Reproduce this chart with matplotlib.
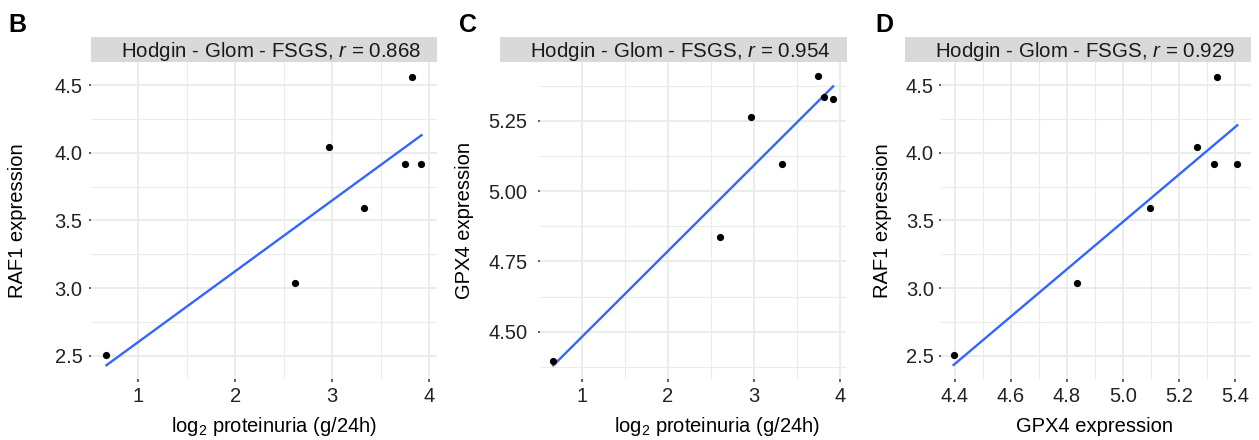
import numpy as np
import matplotlib as mpt
mpt.use('Agg')
from matplotlib import pyplot as plt
from matplotlib.ticker import MultipleLocator

plt.rcParams['font.family'] = ['Liberation Sans', 'DejaVu Sans']
plt.rcParams['mathtext.fontset'] = 'custom'
plt.rcParams['mathtext.rm'] = 'Liberation Sans'
plt.rcParams['mathtext.it'] = 'Liberation Sans:italic'

# values (7 samples)
proteinuria = [0.67, 2.61, 2.97, 3.33, 3.75, 3.82, 3.92]
raf1 = [2.51, 3.04, 4.04, 3.59, 3.92, 4.56, 3.92]
gpx4 = [4.395, 4.836, 5.264, 5.097, 5.409, 5.335, 5.326]

panel_letters = ['B', 'C', 'D']
r_values = ['0.868', '0.954', '0.929']
x_labels = ['log$_2$ proteinuria (g/24h)', 'log$_2$ proteinuria (g/24h)', 'GPX4 expression']
y_labels = ['RAF1 expression', 'GPX4 expression', 'RAF1 expression']

W, H = 1259, 440
fig = plt.figure(figsize=(W / 100, H / 100), dpi=100)


def rect(l, r, t, b):
    return [l / W, 1 - b / H, (r - l) / W, (b - t) / H]


# panel boxes in pixels: plot area, strip, label positions
panels = [
    dict(x=proteinuria, y=raf1, box=(90.7, 437, 62, 379), strip=(90.7, 437),
         xlim=(0.507, 4.08), ylim=(2.33, 4.67), xmaj=1, xmin=0.5, ymaj=0.5, ymin=0.25,
         fmt='%.1f', pad=4.0, letter_x=8, ylab_x=17.5, xlab_x=274),
    dict(x=proteinuria, y=gpx4, box=(540, 846, 62, 379), strip=(500, 847),
         xlim=(0.516, 4.07), ylim=(4.332, 5.459), xmaj=1, xmin=0.5, ymaj=0.25, ymin=0.125,
         fmt='%.2f', pad=7.2, letter_x=459, ylab_x=465, xlab_x=717),
    dict(x=gpx4, y=raf1, box=(941, 1251, 62, 379), strip=(905, 1251),
         xlim=(4.35, 5.458), ylim=(2.33, 4.67), xmaj=0.2, xmin=0.1, ymaj=0.5, ymin=0.25,
         fmt='%.1f', pad=3.4, letter_x=875, ylab_x=883, xlab_x=1094.5),
]

for i, p in enumerate(panels):
    l, r, t, b = p['box']
    ax = fig.add_axes(rect(l, r, t, b))
    ax.set_xlim(p['xlim'])
    ax.set_ylim(p['ylim'])
    ax.xaxis.set_major_locator(MultipleLocator(p['xmaj']))
    ax.xaxis.set_minor_locator(MultipleLocator(p['xmin']))
    ax.yaxis.set_major_locator(MultipleLocator(p['ymaj']))
    ax.yaxis.set_minor_locator(MultipleLocator(p['ymin']))
    ax.yaxis.set_major_formatter(mpt.ticker.FormatStrFormatter(p['fmt']))
    if i == 2:
        ax.xaxis.set_major_formatter(mpt.ticker.FormatStrFormatter('%.1f'))
    ax.grid(which='major', color='#EBEBEB', lw=1.3)
    ax.grid(which='minor', color='#EBEBEB', lw=0.8)
    ax.set_axisbelow(True)
    for s in ax.spines.values():
        s.set_visible(False)
    ax.tick_params(which='major', length=1.8, width=1.1, color='#333333',
                   labelsize=14.5, labelcolor='#222222')
    ax.tick_params(axis='y', pad=p['pad'])
    ax.tick_params(axis='x', pad=4.0)
    ax.tick_params(which='minor', length=0)

    # linear fit like geom_smooth(method='lm')
    xs = np.array(p['x'])
    ys = np.array(p['y'])
    k, c = np.polyfit(xs, ys, 1)
    xx = np.array([xs.min(), xs.max()])
    ax.plot(xx, k * xx + c, color='#3366FF', lw=1.7, zorder=2)
    ax.scatter(xs, ys, s=27, color='black', zorder=3, linewidths=0)

    # strip on top
    sl, sr = p['strip']
    sax = fig.add_axes(rect(sl, sr, 37.5, 62))
    sax.set_facecolor('#D9D9D9')
    sax.set_xticks([])
    sax.set_yticks([])
    for s in sax.spines.values():
        s.set_visible(False)
    fig.text(((sl + sr) / 2 + 7) / W, 1 - 56.7 / H,
             'Hodgin - Glom - FSGS, $r$ = ' + r_values[i],
             ha='center', va='baseline', fontsize=14.8, color='#1A1A1A')

    fig.text(p['letter_x'] / W, 1 - 32 / H, panel_letters[i], fontsize=18,
             fontweight='bold', va='baseline', ha='left')
    fig.text(p['ylab_x'] / W, 1 - 220.5 / H, y_labels[i], rotation=90,
             ha='center', va='center', fontsize=14.5)
    fig.text(p['xlab_x'] / W, 1 - 432 / H, x_labels[i],
             ha='center', va='baseline', fontsize=14.5)

plt.savefig('out.png', dpi=100)
